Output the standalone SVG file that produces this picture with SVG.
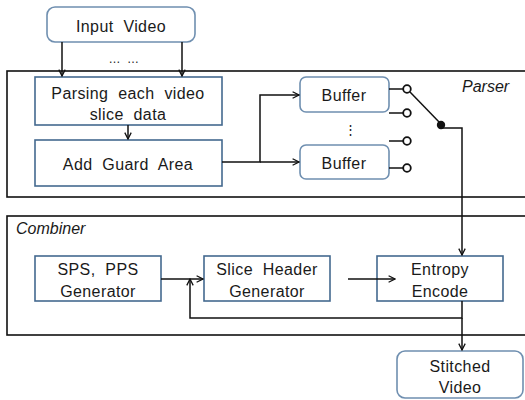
<svg xmlns="http://www.w3.org/2000/svg" width="525" height="400" viewBox="0 0 525 400">
<defs>
<style>
.t{font-family:"Liberation Sans",Arial,sans-serif;font-size:16px;fill:#1a1a1a;text-anchor:middle;word-spacing:5px;letter-spacing:0.4px}
.lbl{font-family:"Liberation Sans",Arial,sans-serif;font-size:16px;font-style:italic;fill:#1a1a1a}
.box{fill:#fff;stroke:#44698f;stroke-width:1.6}
.rbox{fill:#fff;stroke:#6f8fb0;stroke-width:1.6}
.frame{fill:none;stroke:#111;stroke-width:1.6}
.ln{fill:none;stroke:#111;stroke-width:1.5}
</style>
<marker id="ah" viewBox="0 0 10 10" refX="9" refY="5" markerWidth="8" markerHeight="8" markerUnits="userSpaceOnUse" orient="auto">
<path d="M1,1 L9,5 L1,9" fill="none" stroke="#111" stroke-width="1.6"/>
</marker>
</defs>
<rect width="525" height="400" fill="#fff"/>

<g id="parser-frame">
<rect class="frame" x="7" y="71" width="530" height="126"/>
<text class="lbl" x="462" y="92">Parser</text>
</g>
<g id="combiner-frame">
<rect class="frame" x="7" y="216" width="530" height="119"/>
<text class="lbl" x="16" y="234">Combiner</text>
</g>

<g id="input-video">
<rect class="rbox" x="47" y="7" width="148" height="35" rx="8"/>
<text class="t" x="121" y="32">Input Video</text>
</g>
<g id="dots">
<text class="t" x="124" y="63" style="font-size:12px;letter-spacing:0.5px;word-spacing:2px">… …</text>
</g>
<g id="parsing">
<rect class="box" x="35" y="77" width="187" height="48"/>
<text class="t" x="128" y="99">Parsing each video</text>
<text class="t" x="128" y="120">slice data</text>
</g>
<g id="guard">
<rect class="box" x="35" y="140" width="187" height="46"/>
<text class="t" x="128" y="170">Add Guard Area</text>
</g>
<g id="buffer1">
<rect class="rbox" x="300" y="77" width="89" height="35" rx="6"/>
<text class="t" x="344" y="101">Buffer</text>
</g>
<g id="vdots">
<text class="t" x="350" y="134" style="font-size:13px;letter-spacing:0">⋮</text>
</g>
<g id="buffer2">
<rect class="rbox" x="300" y="145" width="89" height="34" rx="6"/>
<text class="t" x="344" y="169">Buffer</text>
</g>
<g id="sps">
<rect class="box" x="35" y="256" width="126" height="45"/>
<text class="t" x="98" y="275">SPS, PPS</text>
<text class="t" x="98" y="297">Generator</text>
</g>
<g id="slice-header">
<rect class="box" x="204" y="256" width="126" height="45"/>
<text class="t" x="267" y="275">Slice Header</text>
<text class="t" x="267" y="297">Generator</text>
</g>
<g id="entropy">
<rect class="box" x="377" y="256" width="126" height="45"/>
<text class="t" x="440" y="275">Entropy</text>
<text class="t" x="440" y="297">Encode</text>
</g>
<g id="stitched">
<rect class="rbox" x="397" y="351" width="126" height="47" rx="8"/>
<text class="t" x="460" y="372">Stitched</text>
<text class="t" x="460" y="393">Video</text>
</g>

<g id="connectors">
<line class="ln" x1="62" y1="42" x2="62" y2="76" marker-end="url(#ah)"/>
<line class="ln" x1="182" y1="42" x2="182" y2="76" marker-end="url(#ah)"/>
<line class="ln" x1="128" y1="125" x2="128" y2="139" marker-end="url(#ah)"/>
<polyline class="ln" points="222,162 260,162 260,95 299,95" marker-end="url(#ah)"/>
<line class="ln" x1="260" y1="162" x2="299" y2="162" marker-end="url(#ah)"/>
<line class="ln" x1="389" y1="89" x2="403" y2="89"/>
<line class="ln" x1="389" y1="113" x2="403" y2="113"/>
<line class="ln" x1="389" y1="141" x2="403" y2="141"/>
<line class="ln" x1="389" y1="168" x2="403" y2="168"/>
<circle cx="407" cy="89" r="3.8" fill="#fff" stroke="#111" stroke-width="1.8"/>
<circle cx="407" cy="113" r="3.8" fill="#fff" stroke="#111" stroke-width="1.8"/>
<circle cx="407" cy="141" r="3.8" fill="#fff" stroke="#111" stroke-width="1.8"/>
<circle cx="407" cy="168" r="3.8" fill="#fff" stroke="#111" stroke-width="1.8"/>
<line class="ln" x1="410" y1="92" x2="441" y2="124"/>
<circle cx="441" cy="125" r="4.2" fill="#111"/>
<polyline class="ln" points="441,128 462,128 462,255" marker-end="url(#ah)"/>
<line class="ln" x1="161" y1="279" x2="203" y2="279" marker-end="url(#ah)"/>
<line class="ln" x1="348" y1="279" x2="395" y2="279" marker-end="url(#ah)"/>
<polyline class="ln" points="462,301 462,318 190,318 190,279" marker-end="url(#ah)"/>
<line class="ln" x1="462" y1="318" x2="462" y2="350" marker-end="url(#ah)"/>
</g>
</svg>
